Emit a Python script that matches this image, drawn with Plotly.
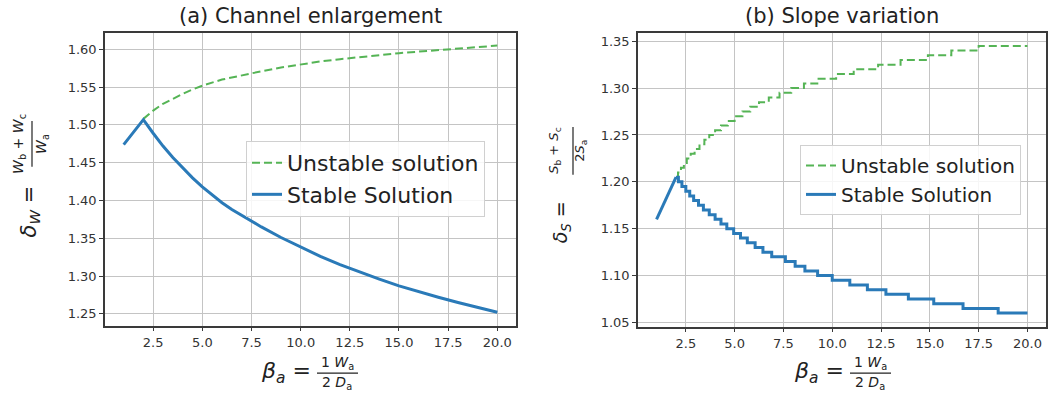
import plotly.graph_objects as go

# ---------------- data ----------------
# (a) Channel enlargement
beta_a_unstable = [2.0, 2.5, 3.0, 3.5, 4.0, 4.5, 5.0, 6.0, 7.0, 8.0, 9.0, 10.0, 11.0, 12.0, 13.0, 14.0, 15.0, 16.0, 17.0, 18.0, 19.0, 20.0]
delta_w_unstable = [1.508, 1.519, 1.528, 1.535, 1.541, 1.547, 1.552, 1.560, 1.566, 1.571, 1.576, 1.580, 1.584, 1.587, 1.590, 1.593, 1.595, 1.597, 1.599, 1.601, 1.603, 1.605]
beta_a_stable = [1.0, 2.0, 2.5, 3.0, 3.5, 4.0, 4.5, 5.0, 5.5, 6.0, 6.5, 7.0, 7.5, 8.0, 9.0, 10.0, 11.0, 12.0, 13.0, 14.0, 15.0, 16.0, 17.0, 18.0, 19.0, 20.0]
delta_w_stable = [1.474, 1.507, 1.489, 1.472, 1.457, 1.443, 1.430, 1.418, 1.407, 1.397, 1.388, 1.380, 1.372, 1.365, 1.351, 1.338,
                  1.326, 1.315, 1.305, 1.296, 1.287, 1.279, 1.272, 1.265, 1.258, 1.252]

# (b) Slope variation  (stepped curves: x where each level starts, level value)
beta_b_rise = [1.0, 2.0]
delta_s_rise = [1.160, 1.205]
beta_b_stable_steps = [2.0, 2.12, 2.3, 2.5, 2.7, 2.9, 3.15, 3.4, 3.7, 4.0, 4.3, 4.6, 4.95, 5.3, 5.65,
                       6.05, 6.45, 6.9, 7.6, 8.1, 8.6, 9.25, 10.0, 10.9, 11.8, 12.75, 13.9, 15.2, 16.7, 18.5, 20.0]
delta_s_stable_steps = [1.205, 1.200, 1.195, 1.190, 1.185, 1.180, 1.175, 1.170, 1.165, 1.160, 1.155, 1.150,
                        1.145, 1.140, 1.135, 1.130, 1.125, 1.120, 1.115, 1.110, 1.105, 1.100, 1.095, 1.090,
                        1.085, 1.080, 1.075, 1.070, 1.065, 1.060, 1.060]
beta_b_unstable_steps = [2.0, 2.1, 2.25, 2.4, 2.55, 2.75, 2.95, 3.2, 3.45, 3.7, 4.0, 4.3, 4.65, 5.0, 5.4,
                         5.8, 6.25, 6.75, 7.3, 7.9, 8.55, 9.3, 10.2, 11.1, 12.35, 13.5, 14.9, 16.1, 17.5, 20.0]
delta_s_unstable_steps = [1.205, 1.210, 1.215, 1.220, 1.225, 1.230, 1.235, 1.240, 1.245, 1.250, 1.255, 1.260,
                          1.265, 1.270, 1.275, 1.280, 1.285, 1.290, 1.295, 1.300, 1.305, 1.310, 1.315, 1.320,
                          1.325, 1.330, 1.335, 1.340, 1.345, 1.345]

x_ticks = [2.5, 5.0, 7.5, 10.0, 12.5, 15.0, 17.5, 20.0]
y_ticks_a = [1.25, 1.30, 1.35, 1.40, 1.45, 1.50, 1.55, 1.60]
y_ticks_b = [1.05, 1.10, 1.15, 1.20, 1.25, 1.30, 1.35]

# ---------------- styling ----------------
W, H = 1048, 398
FONT = "DejaVu Sans"
BLUE = "#2a7ab8"
GREEN = "#55b455"


def px(x):
    return x / W


def py(y):
    return 1 - y / H


fig = go.Figure()

# left panel
fig.add_trace(go.Scatter(x=beta_a_unstable, y=delta_w_unstable, mode="lines", name="Unstable solution",
                         line=dict(color=GREEN, width=2, dash="8px,4px"), xaxis="x", yaxis="y", legend="legend"))
fig.add_trace(go.Scatter(x=beta_a_stable, y=delta_w_stable, mode="lines", name="Stable Solution",
                         line=dict(color=BLUE, width=3), xaxis="x", yaxis="y", legend="legend"))

# right panel
fig.add_trace(go.Scatter(x=beta_b_unstable_steps, y=delta_s_unstable_steps, mode="lines", name="Unstable solution",
                         line=dict(color=GREEN, width=2, dash="8px,4px", shape="hv"),
                         xaxis="x2", yaxis="y2", legend="legend2"))
fig.add_trace(go.Scatter(x=beta_b_rise, y=delta_s_rise, mode="lines", name="Stable Solution", showlegend=False,
                         line=dict(color=BLUE, width=3), xaxis="x2", yaxis="y2", legend="legend2"))
fig.add_trace(go.Scatter(x=beta_b_stable_steps, y=delta_s_stable_steps, mode="lines", name="Stable Solution",
                         line=dict(color=BLUE, width=3, shape="hv"),
                         xaxis="x2", yaxis="y2", legend="legend2"))

axis_common = dict(showline=True, mirror=True, linecolor="#3a3a3a", linewidth=1.5,
                   ticks="outside", ticklen=4, tickwidth=1, tickcolor="#3a3a3a",
                   showgrid=True, gridcolor="#c4c4c4", gridwidth=1, zeroline=False,
                   tickfont=dict(family=FONT, size=13, color="#333333"))

fig.update_layout(
    width=W, height=H, margin=dict(l=0, r=0, t=0, b=0),
    paper_bgcolor="white", plot_bgcolor="white",
    xaxis=dict(domain=[px(105), px(516)], range=[0.05, 20.95], anchor="y",
               tickvals=x_ticks, ticktext=[f"{v:.1f}" for v in x_ticks], **axis_common),
    yaxis=dict(domain=[py(328), py(33)], range=[1.2345, 1.622], anchor="x",
               tickvals=y_ticks_a, ticktext=[f"{v:.2f}" for v in y_ticks_a], **axis_common),
    xaxis2=dict(domain=[px(638), px(1046)], range=[0.05, 20.95], anchor="y2",
                tickvals=x_ticks, ticktext=[f"{v:.1f}" for v in x_ticks], **axis_common),
    yaxis2=dict(domain=[py(329), py(33)], range=[1.0457, 1.359], anchor="x2",
                tickvals=y_ticks_b, ticktext=[f"{v:.2f}" for v in y_ticks_b], **axis_common),
    legend=dict(x=px(246), y=py(142), xanchor="left", yanchor="top", tracegroupgap=0,
                font=dict(family=FONT, size=22, color="#222222"),
                bgcolor="rgba(255,255,255,0.85)", bordercolor="#d0d0d0", borderwidth=1),
    legend2=dict(x=px(800), y=py(146), xanchor="left", yanchor="top", tracegroupgap=0,
                 font=dict(family=FONT, size=20, color="#222222"),
                 bgcolor="rgba(255,255,255,0.85)", bordercolor="#d0d0d0", borderwidth=1),
    showlegend=True,
)

ann = []
# titles
ann.append(dict(text="(a) Channel enlargement", x=px(310), y=py(16), font=dict(size=21)))
ann.append(dict(text="(b) Slope variation", x=px(842), y=py(16), font=dict(size=21)))

# left y label
ann.append(dict(text="<i>δ</i><sub><i>W</i></sub> =", x=px(30), y=py(213), textangle=-90, font=dict(size=21)))
ann.append(dict(text="<i>W</i><sub>b</sub> + <i>W</i><sub>c</sub>", x=px(19), y=py(145), textangle=-90, font=dict(size=14)))
ann.append(dict(text="<i>W</i><sub>a</sub>", x=px(42), y=py(145), textangle=-90, font=dict(size=14)))

# right y label
ann.append(dict(text="<i>δ</i><sub><i>S</i></sub> =", x=px(561), y=py(224), textangle=-90, font=dict(size=19)))
ann.append(dict(text="<i>S</i><sub>b</sub> + <i>S</i><sub>c</sub>", x=px(555), y=py(152), textangle=-90, font=dict(size=13)))
ann.append(dict(text="2<i>S</i><sub>a</sub>", x=px(581), y=py(152), textangle=-90, font=dict(size=13)))

# x labels
for cx in (286, 819):
    ann.append(dict(text="<i>β</i><sub><i>a</i></sub> =", x=px(cx), y=py(375), font=dict(size=22)))
    ann.append(dict(text="1 <i>W</i><sub>a</sub>", x=px(cx + 51), y=py(366), font=dict(size=14)))
    ann.append(dict(text="2 <i>D</i><sub>a</sub>", x=px(cx + 51), y=py(386), font=dict(size=14)))

for a in ann:
    a.update(xref="paper", yref="paper", showarrow=False, xanchor="center", yanchor="middle")
    a["font"].update(family=FONT, color="#222222")
fig.update_layout(annotations=ann)

shapes = [
    dict(x0=px(32), x1=px(32), y0=py(122), y1=py(168)),
    dict(x0=px(573), x1=px(573), y0=py(128), y1=py(176)),
    dict(x0=px(317), x1=px(358), y0=py(376), y1=py(376)),
    dict(x0=px(850), x1=px(891), y0=py(376), y1=py(376)),
]
for s in shapes:
    s.update(type="line", xref="paper", yref="paper", line=dict(color="#222222", width=1.2))
fig.update_layout(shapes=shapes)

fig.write_html("out.html")
